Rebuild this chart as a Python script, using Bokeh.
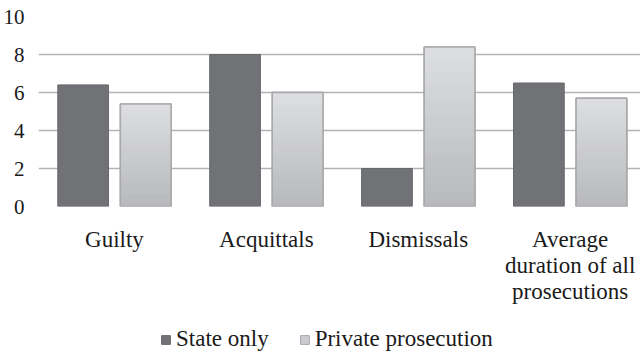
from bokeh.plotting import figure
from bokeh.layouts import column
from bokeh.models import Range1d, FixedTicker, Legend, LegendItem
from bokeh.embed import file_html
from bokeh.resources import INLINE

# Categories and series values
categories = ["Guilty", "Acquittals", "Dismissals", "Average\nduration of all\nprosecutions"]
state_only = [6.4, 8.0, 2.0, 6.5]
private_prosecution = [5.4, 6.0, 8.4, 5.7]
y_ticks = [0, 2, 4, 6, 8, 10]
series_names = ["State only", "Private prosecution"]

FONT = "Liberation Serif"
TEXT = "#1a1a1a"
DARK = "#717276"
DARK_EDGE = "#68696c"
LIGHT = "#cbcccf"
LIGHT_EDGE = "#a9a9ab"

centers = [i + 0.5 for i in range(len(categories))]
bar_w = 0.334
offset = 0.206
x_dark = [c - offset for c in centers]
x_light = [c + offset for c in centers]

p = figure(width=640, height=317, output_backend="svg", toolbar_location=None,
           x_range=Range1d(0, 3.963), y_range=Range1d(0, 10),
           min_border_left=35, min_border_right=0, min_border_top=16,
           min_border_bottom=111)
p.outline_line_color = None
p.background_fill_color = "white"
p.border_fill_color = "white"

# gridlines
p.xgrid.grid_line_color = None
p.ygrid.grid_line_color = "#b4b4b6"
p.ygrid.grid_line_width = 1.6
p.ygrid.ticker = FixedTicker(ticks=y_ticks)

# State only bars
p.vbar(x=x_dark, top=state_only, width=bar_w, bottom=0,
       fill_color=DARK, line_color=DARK_EDGE, line_width=1)

# Private prosecution bars: base fill, vertical shading, then outline
p.vbar(x=x_light, top=private_prosecution, width=bar_w, bottom=0,
       fill_color=LIGHT, line_color=LIGHT_EDGE, line_width=1.5)

n_bands = 30
top_rgb = (0xde, 0xdf, 0xe2)
bot_rgb = (0xb7, 0xb8, 0xba)
lefts, rights, bottoms, tops, colors = [], [], [], [], []
for xc, v in zip(x_light, private_prosecution):
    for k in range(n_bands):
        f0 = k / n_bands
        f1 = (k + 1) / n_bands
        t = (f0 + f1) / 2
        rgb = tuple(int(round(b + (a - b) * t)) for a, b in zip(top_rgb, bot_rgb))
        lefts.append(xc - bar_w / 2)
        rights.append(xc + bar_w / 2)
        bottoms.append(v * f0)
        tops.append(v * f1 + v * 0.002)
        colors.append("#%02x%02x%02x" % rgb)
p.quad(left=lefts, right=rights, bottom=bottoms, top=tops,
       fill_color=colors, line_color=None)
p.vbar(x=x_light, top=private_prosecution, width=bar_w, bottom=0,
       fill_color=None, line_color=LIGHT_EDGE, line_width=1.5)

# y axis
p.yaxis.ticker = FixedTicker(ticks=y_ticks)
p.yaxis.axis_line_color = None
p.yaxis.major_tick_line_color = None
p.yaxis.minor_tick_line_color = None
p.yaxis.major_label_standoff = 8
p.yaxis.major_label_text_font = FONT
p.yaxis.major_label_text_font_size = "21px"
p.yaxis.major_label_text_color = TEXT

# x axis with category names at group centres
p.xaxis.ticker = FixedTicker(ticks=centers)
p.xaxis.major_label_overrides = {c: name for c, name in zip(centers, categories)}
p.xaxis.axis_line_color = None
p.xaxis.major_tick_line_color = None
p.xaxis.minor_tick_line_color = None
p.xaxis.major_label_standoff = 14
p.xaxis.major_label_text_font = FONT
p.xaxis.major_label_text_font_size = "23px"
p.xaxis.major_label_text_color = TEXT
p.xaxis.major_label_text_line_height = 1.05

# legend strip underneath the chart; its key glyphs sit outside the visible range
lg = figure(width=640, height=36, output_backend="svg", toolbar_location=None,
            x_range=Range1d(0, 1), y_range=Range1d(0, 1),
            x_axis_location=None, y_axis_location=None,
            min_border_left=0, min_border_right=0, min_border_top=0,
            min_border_bottom=0)
lg.outline_line_color = None
lg.grid.visible = False
lg.border_fill_color = "white"
key_dark = lg.vbar(x=[5], top=[1], width=0.1, fill_color=DARK, line_color=DARK_EDGE)
key_light = lg.vbar(x=[5], top=[1], width=0.1, fill_color=LIGHT, line_color=LIGHT_EDGE)
legend = Legend(items=[LegendItem(label=series_names[0], renderers=[key_dark]),
                       LegendItem(label=series_names[1], renderers=[key_light])],
                orientation="horizontal", location=(122, 1),
                glyph_width=11, glyph_height=11, label_standoff=5, spacing=30,
                label_text_font=FONT, label_text_font_size="23px",
                label_text_color=TEXT, border_line_color=None,
                background_fill_alpha=0, padding=0, margin=0)
lg.add_layout(legend)

open("out.html", "w").write(file_html(column(p, lg, spacing=0), INLINE))
